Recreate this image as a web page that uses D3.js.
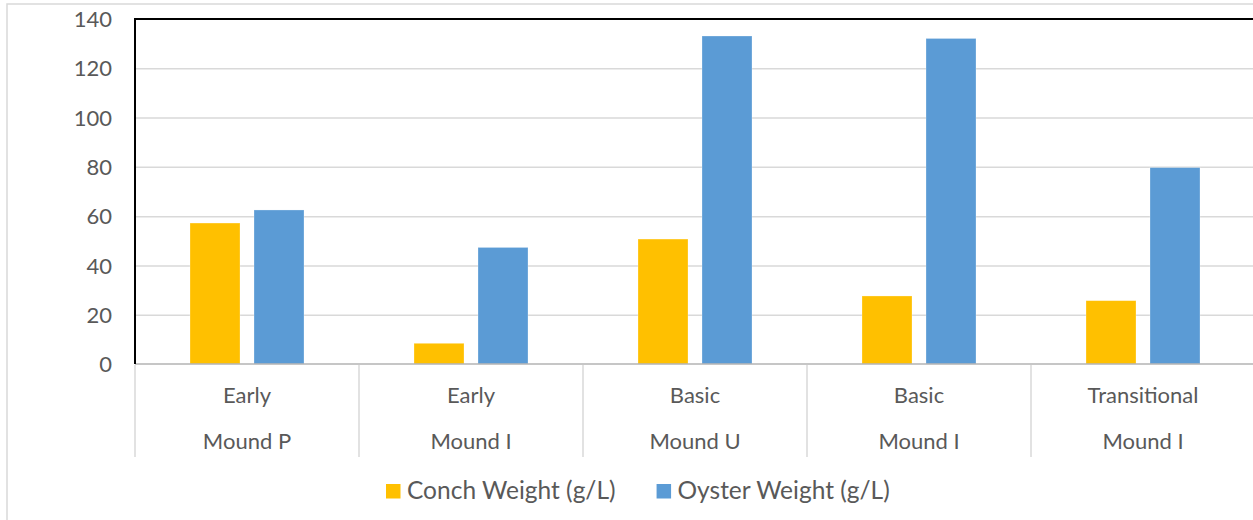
<!DOCTYPE html>
<html>
<head>
<meta charset="utf-8">
<script src="https://cdn.jsdelivr.net/npm/d3@7"></script>
<style>
  html, body { margin: 0; padding: 0; background: #fff; }
  svg { display: block; }
  text { font-family: Lato, "Open Sans", sans-serif; fill: #595959; }
</style>
</head>
<body>
<svg id="chart" width="1253" height="520"></svg>
<script>
// Shell weights per excavation context
const periods   = ["Early", "Early", "Basic", "Basic", "Transitional"];
const mounds    = ["Mound P", "Mound I", "Mound U", "Mound I", "Mound I"];
const conch     = [57.2, 8.4, 50.7, 27.6, 25.7];
const oyster    = [62.5, 47.3, 133.1, 132.1, 79.7];
const seriesNames = ["Conch Weight (g/L)", "Oyster Weight (g/L)"];
const seriesColors = ["#FFC000", "#5B9BD5"];
const yTicks = [0, 20, 40, 60, 80, 100, 120, 140];

const svg = d3.select("#chart");
const W = 1253, H = 520;

// plot area
const plot = { left: 135, top: 19, right: 1255, bottom: 364 };

// outer chart frame
svg.append("rect")
  .attr("x", 7).attr("y", 4)
  .attr("width", 1300).attr("height", 600)
  .attr("fill", "#fff")
  .attr("stroke", "#d9d9d9").attr("stroke-width", 1.5);

const keys = d3.range(periods.length);
const x0 = d3.scaleBand().domain(keys).range([plot.left, plot.right]).paddingInner(0).paddingOuter(0);
const x1 = d3.scaleBand().domain([0, 1])
  .range([55 / 224 * x0.bandwidth(), 169 / 224 * x0.bandwidth()])
  .paddingInner(0.21875).paddingOuter(0);
const y = d3.scaleLinear().domain([0, 140]).range([plot.bottom, plot.top]);

// gridlines
svg.append("g")
  .attr("transform", `translate(${plot.left},0)`)
  .call(d3.axisLeft(y).tickValues(yTicks.filter(v => v > 0 && v < 140))
    .tickSize(-(plot.right - plot.left)).tickFormat(""))
  .call(g => g.select(".domain").remove())
  .call(g => g.selectAll("line").attr("stroke", "#d9d9d9").attr("stroke-width", 1.5));

// y tick labels
svg.append("g")
  .attr("transform", `translate(${plot.left - 23},0)`)
  .call(d3.axisLeft(y).tickValues(yTicks).tickSize(0).tickPadding(0).tickFormat(d3.format("d")))
  .call(g => g.select(".domain").remove())
  .call(g => g.selectAll("text")
    .attr("font-family", "Lato, sans-serif")
    .attr("font-size", 22)
    .attr("fill", "#595959")
    .attr("dy", "0.35em"));

// bars
const data = keys.map(i => [conch[i], oyster[i]]);
const groups = svg.append("g").selectAll("g")
  .data(data).join("g")
  .attr("transform", (d, i) => `translate(${x0(i)},0)`);
groups.selectAll("rect")
  .data(d => d.map((v, s) => ({ v, s })))
  .join("rect")
  .attr("x", d => x1(d.s))
  .attr("width", x1.bandwidth())
  .attr("y", d => y(d.v))
  .attr("height", d => y(0) - y(d.v))
  .attr("fill", d => seriesColors[d.s])
  .attr("stroke", "#fff").attr("stroke-opacity", 0.35).attr("stroke-width", 0.75);

// category axis: baseline and group separators
const catAxis = svg.append("g");
catAxis.append("line")
  .attr("x1", plot.left).attr("x2", plot.right)
  .attr("y1", y(0)).attr("y2", y(0))
  .attr("stroke", "#b3b3b3").attr("stroke-width", 1.6);
catAxis.selectAll("line.sep")
  .data(keys.concat([periods.length]))
  .join("line")
  .attr("class", "sep")
  .attr("x1", i => i < periods.length ? x0(i) : plot.right)
  .attr("x2", i => i < periods.length ? x0(i) : plot.right)
  .attr("y1", y(0) + 1).attr("y2", 457)
  .attr("stroke", "#d9d9d9").attr("stroke-width", 1.5);

// two-level category labels
catAxis.selectAll("text.period")
  .data(periods).join("text")
  .attr("class", "period")
  .attr("x", (d, i) => x0(i) + x0.bandwidth() / 2)
  .attr("y", 403)
  .attr("text-anchor", "middle")
  .attr("font-size", 22)
  .text(d => d);
catAxis.selectAll("text.mound")
  .data(mounds).join("text")
  .attr("class", "mound")
  .attr("x", (d, i) => x0(i) + x0.bandwidth() / 2)
  .attr("y", 449)
  .attr("text-anchor", "middle")
  .attr("font-size", 22)
  .text(d => d);

// plot area border (top and left)
svg.append("path")
  .attr("d", `M${plot.left},${plot.bottom}V${plot.top}H${plot.right}`)
  .attr("fill", "none").attr("stroke", "#000").attr("stroke-width", 2);

// legend
const legend = svg.append("g");
let lx = 386;
seriesNames.forEach((name, s) => {
  legend.append("rect")
    .attr("x", lx).attr("y", 484)
    .attr("width", 14.5).attr("height", 14.5)
    .attr("fill", seriesColors[s]);
  const t = legend.append("text")
    .attr("x", lx + 21).attr("y", 499)
    .attr("font-size", 24.5)
    .text(name);
  lx += 21 + t.node().getComputedTextLength() + 41;
});
</script>
</body>
</html>
